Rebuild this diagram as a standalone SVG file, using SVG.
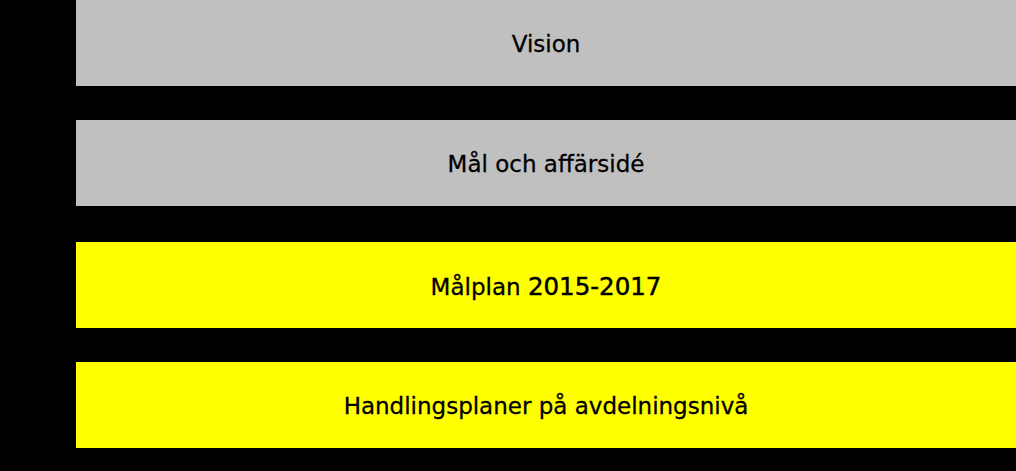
<svg xmlns="http://www.w3.org/2000/svg" width="1016" height="471" viewBox="0 0 1016 471">
<style>
.grey{fill:#c0c0c0}
.yellow{fill:#ffff00}
.lbl{font-family:"DejaVu Sans","Noto Sans",sans-serif;font-size:23px;fill:#000;stroke:#000;stroke-width:0.3;text-anchor:middle}
.num{font-size:24.5px;stroke-width:0.5}
</style>
<rect x="0" y="0" width="1016" height="471" fill="#000"/>
<g id="vision">
<rect class="grey" x="76" y="0" width="940" height="86"/>
<text class="lbl" x="546" y="52">Vision</text>
</g>
<g id="mal">
<rect class="grey" x="76" y="120" width="940" height="86"/>
<text class="lbl" x="546" y="172">Mål och affärsidé</text>
</g>
<g id="malplan">
<rect class="yellow" x="76" y="242" width="940" height="86"/>
<text class="lbl" x="546" y="295">Målplan <tspan class="num">2015-2017</tspan></text>
</g>
<g id="handlingsplaner">
<rect class="yellow" x="76" y="362" width="940" height="86"/>
<text class="lbl" x="546" y="414">Handlingsplaner på avdelningsnivå</text>
</g>
<g id="connectors"/>
</svg>
